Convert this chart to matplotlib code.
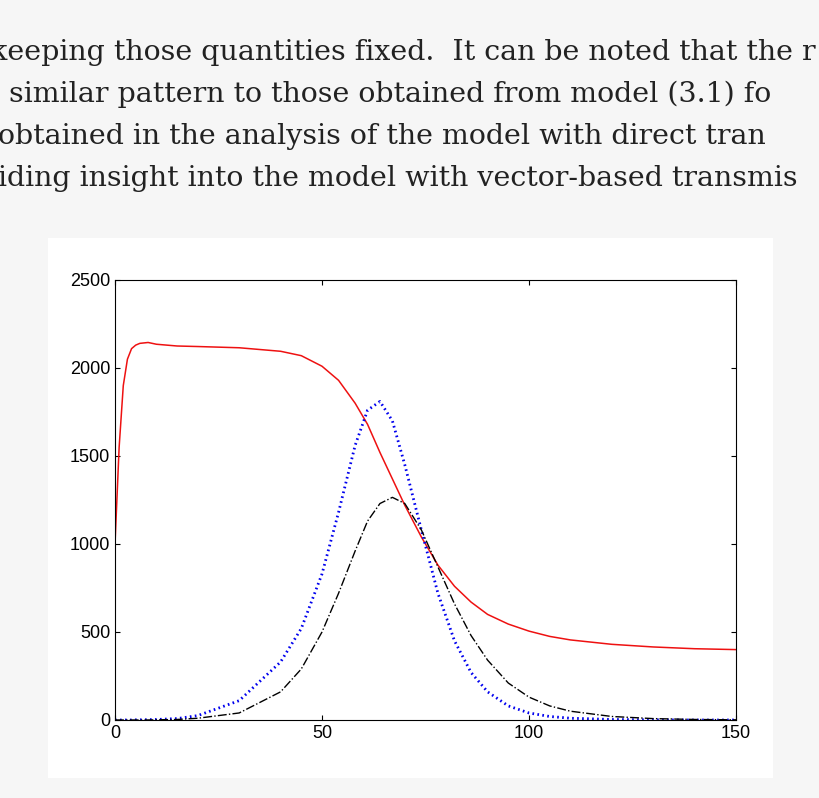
import matplotlib
matplotlib.use("Agg")
import matplotlib.pyplot as plt
from matplotlib.patches import Rectangle

t = [0, 1, 2, 3, 4, 5, 6, 8, 10, 15, 20, 30, 40, 45, 50, 54, 58, 61, 64, 67, 70, 74, 78, 82, 86, 90, 95, 100, 105, 110, 120, 130, 140, 150]
red = [1000, 1550, 1900, 2050, 2110, 2130, 2140, 2145, 2135, 2125, 2122, 2115, 2095, 2070, 2010, 1930, 1800, 1680, 1520, 1370, 1220, 1040, 880, 760, 670, 600, 545, 505, 475, 455, 430, 415, 405, 400]
blue = [0, 0, 0, 0, 0, 1, 1, 2, 3, 8, 25, 110, 330, 520, 830, 1180, 1560, 1760, 1810, 1700, 1450, 1080, 720, 450, 270, 160, 80, 40, 20, 10, 3, 1, 0, 0]
black = [0, 0, 0, 0, 0, 0, 0, 0, 1, 3, 10, 40, 160, 290, 500, 720, 960, 1130, 1230, 1265, 1230, 1080, 870, 660, 480, 340, 210, 130, 80, 50, 20, 8, 3, 1]

lines = ["keeping those quantities fixed.  It can be noted that the r",
         " similar pattern to those obtained from model (3.1) fo",
         "obtained in the analysis of the model with direct tran",
         "iding insight into the model with vector-based transmis"]
xs = [-0.012, 0.0, -0.002, -0.002]

fig = plt.figure(figsize=(8.2, 7.98), dpi=100)
fig.patch.set_facecolor("#f6f6f6")
for i, (s, x) in enumerate(zip(lines, xs)):
    fig.text(x, 1 - (52 + 42 * i) / 798, s, fontsize=20.5, family="DejaVu Serif",
             va="center", ha="left", color="#222222")
fig.patches.append(Rectangle((48 / 820, 1 - 778 / 798), 725 / 820, 540 / 798,
                             transform=fig.transFigure, facecolor="white", edgecolor="none", zorder=-5))
ax = fig.add_axes([115 / 820, 1 - 720 / 798, 621 / 820, 440 / 798])
ax.set_zorder(2)
ax.plot(t, red, color="#ee1111", lw=1.1)
ax.plot(t, blue, color="#0000ee", lw=2.0, linestyle=(0, (0.6, 1.2)))
ax.plot(t, black, color="black", lw=1.0, linestyle="-.")
ax.set_xlim(0, 150)
ax.set_ylim(0, 2500)
ax.set_xticks([0, 50, 100, 150])
ax.set_yticks([0, 500, 1000, 1500, 2000, 2500])
ax.tick_params(direction="in", top=True, right=True, labelsize=13)
for lab in ax.get_xticklabels() + ax.get_yticklabels():
    lab.set_family("Liberation Sans")
fig.savefig("out.png", dpi=100)
